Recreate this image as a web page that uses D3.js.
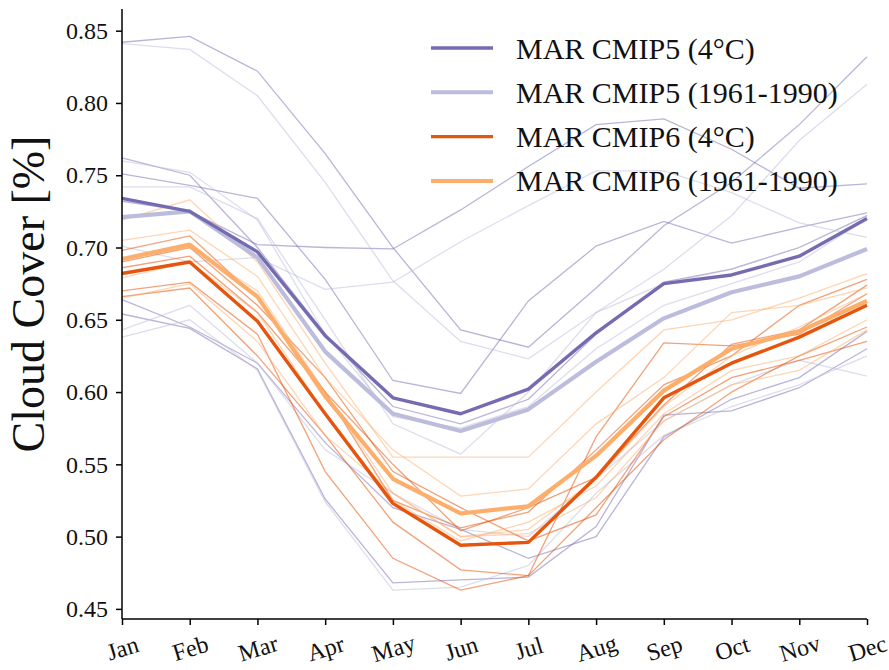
<!DOCTYPE html>
<html>
<head>
<meta charset="utf-8">
<script src="https://cdn.jsdelivr.net/npm/d3@7"></script>
<style>
  body { margin: 0; background: #fff; }
  svg text { font-family: 'Liberation Serif', 'DejaVu Serif', serif; fill: #111; }
</style>
</head>
<body>
<div id="chart"></div>
<script>
const months = ['Jan', 'Feb', 'Mar', 'Apr', 'May', 'Jun', 'Jul', 'Aug', 'Sep', 'Oct', 'Nov', 'Dec']
const yTicks = [0.45, 0.5, 0.55, 0.6, 0.65, 0.7, 0.75, 0.8, 0.85]

// individual models, CMIP5 forced MAR at +4°C
const cmip5Warm = [
  [0.842, 0.846, 0.822, 0.765, 0.700, 0.643, 0.631, 0.672, 0.715, 0.745, 0.785, 0.832],
  [0.762, 0.750, 0.700, 0.640, 0.590, 0.578, 0.595, 0.640, 0.676, 0.685, 0.700, 0.722],
  [0.751, 0.743, 0.734, 0.678, 0.608, 0.599, 0.663, 0.701, 0.718, 0.703, 0.714, 0.724],
  [0.732, 0.725, 0.702, 0.700, 0.699, 0.726, 0.756, 0.785, 0.789, 0.768, 0.741, 0.744],
  [0.664, 0.645, 0.620, 0.565, 0.520, 0.505, 0.485, 0.500, 0.569, 0.595, 0.610, 0.642],
  [0.654, 0.644, 0.616, 0.526, 0.468, 0.470, 0.472, 0.507, 0.584, 0.587, 0.603, 0.630]
]
// CMIP5 1961-1990
const cmip5Hist = [
  [0.841, 0.837, 0.805, 0.745, 0.677, 0.635, 0.623, 0.655, 0.685, 0.722, 0.774, 0.813],
  [0.760, 0.752, 0.719, 0.640, 0.583, 0.575, 0.590, 0.630, 0.660, 0.675, 0.690, 0.720],
  [0.742, 0.742, 0.720, 0.650, 0.578, 0.557, 0.600, 0.655, 0.675, 0.685, 0.700, 0.722],
  [0.701, 0.690, 0.693, 0.671, 0.676, 0.704, 0.729, 0.753, 0.753, 0.738, 0.717, 0.707],
  [0.643, 0.660, 0.620, 0.560, 0.530, 0.505, 0.500, 0.540, 0.580, 0.605, 0.622, 0.611],
  [0.638, 0.650, 0.615, 0.524, 0.463, 0.465, 0.480, 0.530, 0.570, 0.590, 0.605, 0.625]
]
// CMIP6 +4°C
const cmip6Warm = [
  [0.698, 0.708, 0.665, 0.600, 0.525, 0.506, 0.517, 0.560, 0.605, 0.625, 0.660, 0.678],
  [0.670, 0.676, 0.640, 0.545, 0.485, 0.463, 0.473, 0.520, 0.567, 0.600, 0.625, 0.645],
  [0.666, 0.672, 0.625, 0.570, 0.510, 0.477, 0.473, 0.569, 0.634, 0.632, 0.640, 0.668],
  [0.690, 0.700, 0.660, 0.610, 0.545, 0.520, 0.497, 0.515, 0.583, 0.610, 0.622, 0.635],
  [0.686, 0.694, 0.655, 0.600, 0.550, 0.504, 0.520, 0.541, 0.591, 0.633, 0.643, 0.674]
]
// CMIP6 1961-1990
const cmip6Hist = [
  [0.719, 0.733, 0.690, 0.620, 0.555, 0.555, 0.555, 0.600, 0.643, 0.650, 0.665, 0.682],
  [0.705, 0.712, 0.680, 0.610, 0.560, 0.528, 0.533, 0.578, 0.610, 0.655, 0.660, 0.672],
  [0.692, 0.700, 0.670, 0.600, 0.530, 0.500, 0.505, 0.540, 0.590, 0.625, 0.645, 0.668],
  [0.679, 0.690, 0.655, 0.585, 0.525, 0.497, 0.510, 0.535, 0.585, 0.615, 0.625, 0.650],
  [0.665, 0.675, 0.635, 0.570, 0.530, 0.500, 0.502, 0.527, 0.580, 0.605, 0.615, 0.643]
]

// ensemble means (thick lines)
const cmip5WarmMean = [0.734, 0.725, 0.697, 0.639, 0.596, 0.585, 0.602, 0.641, 0.675, 0.681, 0.694, 0.720]
const cmip5HistMean = [0.721, 0.725, 0.693, 0.628, 0.585, 0.573, 0.588, 0.621, 0.651, 0.669, 0.680, 0.699]
const cmip6WarmMean = [0.682, 0.690, 0.649, 0.585, 0.523, 0.494, 0.496, 0.541, 0.596, 0.620, 0.638, 0.660]
const cmip6HistMean = [0.692, 0.702, 0.666, 0.597, 0.540, 0.516, 0.521, 0.556, 0.601, 0.630, 0.642, 0.663]

const legendLabels = ['MAR CMIP5 (4°C)', 'MAR CMIP5 (1961-1990)', 'MAR CMIP6 (4°C)', 'MAR CMIP6 (1961-1990)']
const colors = ['#756bb1', '#bcbddc', '#e6550d', '#fdae6b']

const W = 889
const H = 670
const margin = { top: 9, left: 122, right: 22, bottom: 51 }
const width = W - margin.left - margin.right
const height = H - margin.top - margin.bottom

const svg = d3
  .select('#chart')
  .append('svg')
  .attr('width', W)
  .attr('height', H)
  .append('g')
  .attr('transform', 'translate(' + margin.left + ',' + margin.top + ')')

const xPositionScale = d3.scalePoint().domain(months).range([0, width])
const yPositionScale = d3.scaleLinear().domain([0.443, 0.865]).range([height, 0])

const line = d3
  .line()
  .x((d, i) => xPositionScale(months[i]))
  .y(d => yPositionScale(d))

// thin model lines
const groups = [
  { data: cmip5Warm, color: colors[0], opacity: 0.5 },
  { data: cmip5Hist, color: colors[1], opacity: 0.5 },
  { data: cmip6Warm, color: colors[2], opacity: 0.55 },
  { data: cmip6Hist, color: colors[3], opacity: 0.5 }
]
groups.forEach(g => {
  svg
    .append('g')
    .selectAll('path')
    .data(g.data)
    .enter()
    .append('path')
    .attr('d', line)
    .attr('fill', 'none')
    .attr('stroke', g.color)
    .attr('stroke-opacity', g.opacity)
    .attr('stroke-width', 1.3)
})

// thick means
const means = [
  { data: cmip5HistMean, color: colors[1], w: 4.2 },
  { data: cmip5WarmMean, color: colors[0], w: 3.4 },
  { data: cmip6HistMean, color: colors[3], w: 4.2 },
  { data: cmip6WarmMean, color: colors[2], w: 3.4 }
]
svg
  .selectAll('.mean')
  .data(means)
  .enter()
  .append('path')
  .attr('class', 'mean')
  .attr('d', d => line(d.data))
  .attr('fill', 'none')
  .attr('stroke', d => d.color)
  .attr('stroke-width', d => d.w)
  .attr('stroke-linejoin', 'round')

// axes
const yAxis = d3
  .axisLeft(yPositionScale)
  .tickValues(yTicks)
  .tickFormat(d3.format('.2f'))
  .tickSize(6)
  .tickPadding(8)
svg
  .append('g')
  .attr('class', 'y-axis')
  .call(yAxis)
  .call(g => g.select('.domain').attr('stroke-width', 1.5).attr('d', 'M0,0V' + height))
  .call(g => g.selectAll('.tick line').attr('stroke-width', 1.5))
  .call(g => g.selectAll('text').style('font-size', '24px').attr('fill', '#111'))

const xAxis = d3.axisBottom(xPositionScale).tickSize(6).tickPadding(6)
svg
  .append('g')
  .attr('class', 'x-axis')
  .attr('transform', 'translate(0,' + height + ')')
  .call(xAxis)
  .call(g => g.select('.domain').attr('stroke-width', 1.5).attr('d', 'M0,0H' + width))
  .call(g => g.selectAll('.tick line').attr('stroke-width', 1.5))
  .call(g =>
    g
      .selectAll('text')
      .style('font-size', '24px')
      .attr('fill', '#111')
      .attr('text-anchor', 'middle')
      .attr('dy', '0.35em')
      .attr('y', 29)
      .attr('transform', 'rotate(-17,0,29)')
  )

// y label
svg
  .append('text')
  .attr('transform', 'translate(' + (44 - margin.left) + ',' + (294 - margin.top) + ') rotate(-90)')
  .attr('text-anchor', 'middle')
  .style('font-size', '46px')
  .text('Cloud Cover [%]')

// legend
const legend = svg
  .selectAll('.legend')
  .data(legendLabels)
  .enter()
  .append('g')
  .attr('class', 'legend')
  .attr('transform', (d, i) => 'translate(' + (431 - margin.left) + ',' + (48 + i * 44.3 - margin.top) + ')')

legend
  .append('line')
  .attr('x1', 0)
  .attr('x2', 62)
  .attr('stroke', (d, i) => colors[i])
  .attr('stroke-width', (d, i) => (i % 2 ? 4 : 3.4))

legend
  .append('text')
  .attr('x', 85)
  .attr('dy', '0.35em')
  .style('font-size', '30px')
  .text(d => d)
</script>
</body>
</html>
